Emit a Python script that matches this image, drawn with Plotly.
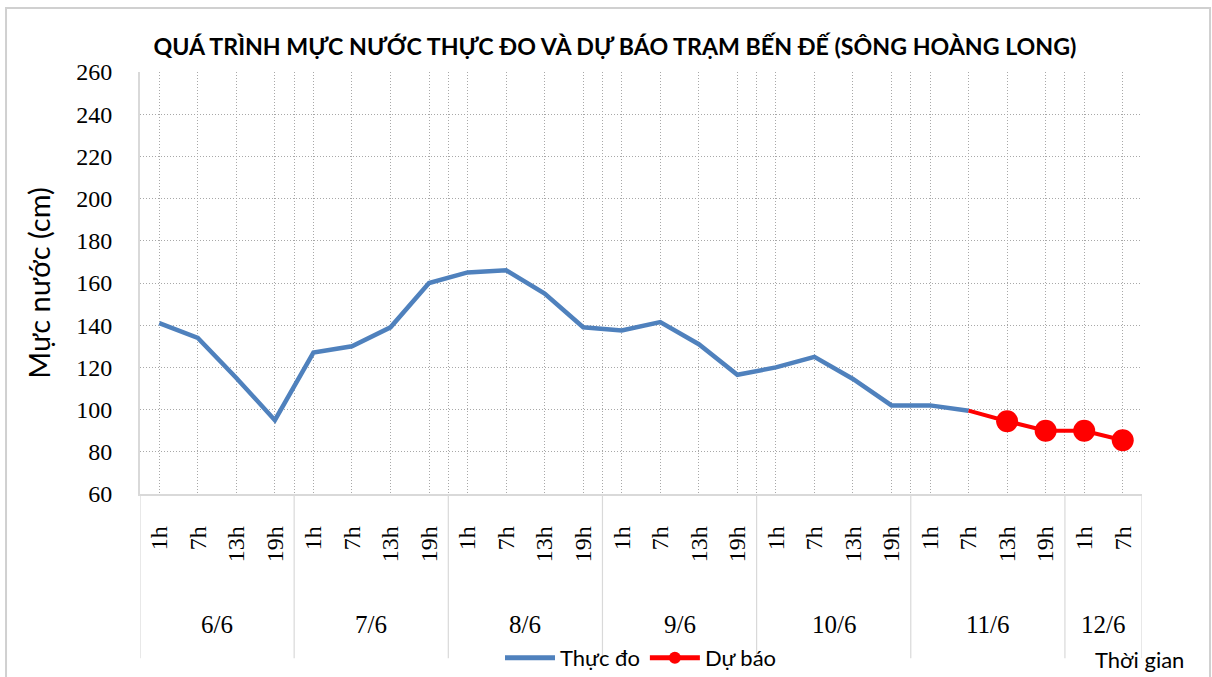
import plotly.graph_objects as go

# ---- data ----
days = ["6/6", "7/6", "8/6", "9/6", "10/6", "11/6", "12/6"]
hours_per_day = [
    ["1h", "7h", "13h", "19h"],
    ["1h", "7h", "13h", "19h"],
    ["1h", "7h", "13h", "19h"],
    ["1h", "7h", "13h", "19h"],
    ["1h", "7h", "13h", "19h"],
    ["1h", "7h", "13h", "19h"],
    ["1h", "7h"],
]
thuc_do = [141, 134, 115, 95,
           127, 130, 139, 160,
           165, 166, 155, 139,
           137.5, 141.5, 131, 116.5,
           120, 125, 114.5, 102,
           102, 99.5, None, None,
           None, None]
du_bao = [None, None, None, None,
          None, None, None, None,
          None, None, None, None,
          None, None, None, None,
          None, None, None, None,
          None, 99.5, 94.5, 90,
          90, 85.5]

hours = [h for grp in hours_per_day for h in grp]
xs = list(range(len(hours)))

# group boundaries / centers computed from data
bounds = [-0.5]
centers = []
start = 0
for grp in hours_per_day:
    centers.append(start + (len(grp) - 1) / 2)
    start += len(grp)
    bounds.append(start - 0.5)

BLUE = "#4f81bd"
RED = "#ff0000"
GRID = "#a8a8a8"
SERIF = "Liberation Serif"
SANS = "Lato"

fig = go.Figure()
fig.add_trace(go.Scatter(
    x=xs, y=thuc_do, mode="lines", name="Thực đo",
    line=dict(color=BLUE, width=4.5), connectgaps=False,
))
first_fc = next(i for i, v in enumerate(du_bao) if v is not None)
fc_sizes = [0 if i <= first_fc else 22 for i in range(len(du_bao))]
fig.add_trace(go.Scatter(
    x=xs, y=du_bao, mode="lines+markers", name="Dự báo",
    line=dict(color=RED, width=4),
    marker=dict(color=RED, size=fc_sizes, opacity=1, line=dict(width=0)),
))

shapes = []
for b in bounds:
    shapes.append(dict(type="line", xref="x", yref="paper", x0=b, x1=b,
                       y0=0, y1=-0.389, line=dict(color="#d9d9d9", width=1.2)))
# outer frame
shapes.append(dict(type="rect", xref="paper", yref="paper",
                   x0=-0.1337, x1=1.0679, y0=-0.5, y1=1.1517,
                   line=dict(color="#d0d0d0", width=2), layer="below"))

annotations = []
for d, c in zip(days, centers):
    annotations.append(dict(text=d, x=c, xref="x", y=-0.31, yref="paper",
                            showarrow=False, font=dict(family=SERIF, size=25, color="#000"),
                            xanchor="center", yanchor="middle"))
annotations.append(dict(text="Thời gian", x=0.998, xref="paper", y=-0.392, yref="paper",
                        showarrow=False, font=dict(family=SANS, size=22, color="#000"),
                        xanchor="center", yanchor="middle"))

fig.update_layout(
    width=1212, height=677, autosize=False,
    margin=dict(l=140, r=70, t=72, b=183),
    paper_bgcolor="white", plot_bgcolor="white",
    title=dict(text="<b>QUÁ TRÌNH MỰC NƯỚC THỰC ĐO VÀ DỰ BÁO TRẠM BẾN ĐẾ (SÔNG HOÀNG LONG)</b>",
               x=0.5074, xanchor="center", xref="container",
               y=1 - 47 / 677, yanchor="middle", yref="container",
               font=dict(family=SANS, size=23.2, color="#000")),
    xaxis=dict(
        range=[-0.5, len(hours) - 0.5],
        tickmode="array", tickvals=xs, ticktext=hours, tickangle=-90,
        tickfont=dict(family=SERIF, size=24, color="#000"),
        ticks="", ticklabelstandoff=21, automargin=False,
        showgrid=True, gridcolor=GRID, griddash="1px,2px", gridwidth=1,
        minor=dict(tickmode="array", tickvals=bounds, showgrid=True,
                   gridcolor=GRID, griddash="1px,2px", gridwidth=1),
        showline=True, linecolor="#d9d9d9", linewidth=1.5,
        zeroline=False, fixedrange=True,
    ),
    yaxis=dict(
        range=[60, 260], dtick=20, tick0=60,
        tickfont=dict(family=SERIF, size=24, color="#000"),
        ticks="", ticklabelstandoff=21, automargin=False,
        showgrid=True, gridcolor=GRID, griddash="1px,2px", gridwidth=1,
        showline=True, linecolor="#d9d9d9", linewidth=2,
        zeroline=False,
        title=dict(text="Mực nước (cm)", font=dict(family=SANS, size=29, color="#000"),
                   standoff=17),
    ),
    legend=dict(orientation="h", x=0.5, xanchor="center", xref="paper",
                y=1 - 658 / 677, yanchor="middle", yref="container",
                font=dict(family=SANS, size=22, color="#000"),
                bgcolor="rgba(0,0,0,0)", itemwidth=50, tracegroupgap=0,
                itemsizing="constant"),
    shapes=shapes, annotations=annotations,
    showlegend=True,
)

fig.write_html("out.html",
               config={"responsive": False, "displayModeBar": False},
               post_script="document.body.style.margin='0';document.body.style.overflow='hidden';")
